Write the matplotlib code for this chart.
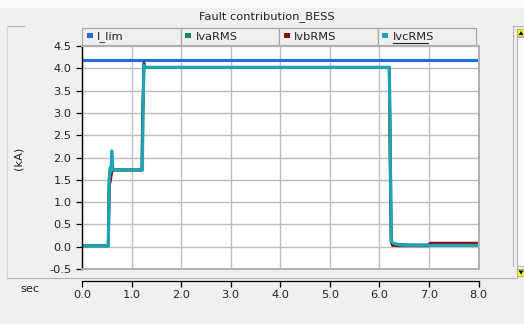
import matplotlib

matplotlib.use("Agg")

import matplotlib.pyplot as plt
from matplotlib.patches import Rectangle, Polygon

W, H = 524, 324
BG = "#f0f0f0"
GRID = "#bdbdbd"

TITLE = "Fault contribution_BESS"
SERIES = ["I_lim", "IvaRMS", "IvbRMS", "IvcRMS"]
COLORS = ["#1f6fd6", "#17876c", "#8b0f0f", "#1ba6b8"]

X_TICKS = [0.0, 1.0, 2.0, 3.0, 4.0, 5.0, 6.0, 7.0, 8.0]
Y_TICKS = [-0.5, 0.0, 0.5, 1.0, 1.5, 2.0, 2.5, 3.0, 3.5, 4.0, 4.5]

# current limit
t_lim = [0.0, 8.0]
i_lim = [4.19, 4.19]

# phase RMS currents (kA)
t_a = [0.0, 0.53, 0.55, 0.57, 0.59, 0.60, 0.62, 0.65, 1.21, 1.23, 1.25, 1.27, 6.20, 6.22, 6.24, 6.27, 6.40, 6.60, 8.0]
i_a = [0.02, 0.02, 1.55, 1.75, 1.68, 2.05, 1.74, 1.72, 1.72, 3.0, 4.1, 4.02, 4.02, 2.2, 0.12, 0.07, 0.05, 0.04, 0.04]

t_b = [0.0, 0.53, 0.55, 0.57, 0.59, 0.61, 0.64, 0.66, 1.21, 1.22, 1.25, 1.27, 6.20, 6.22, 6.24, 6.26, 6.40, 6.60, 7.00, 7.02, 8.0]
i_b = [0.02, 0.02, 1.40, 1.45, 1.60, 1.70, 1.72, 1.72, 1.72, 2.9, 4.12, 4.02, 4.02, 1.5, 0.10, 0.03, 0.02, 0.02, 0.02, 0.08, 0.08]

t_c = [0.0, 0.53, 0.55, 0.57, 0.59, 0.60, 0.62, 0.65, 1.22, 1.23, 1.25, 1.27, 6.20, 6.22, 6.24, 6.27, 6.35, 6.50, 8.0]
i_c = [0.02, 0.02, 1.50, 1.78, 1.70, 2.15, 1.75, 1.72, 1.72, 3.0, 4.08, 4.02, 4.02, 2.0, 0.12, 0.08, 0.05, 0.03, 0.03]


def px_axes(fig, x0, y0, x1, y1, **kw):
    # axes placed by pixel box (top-left origin)
    return fig.add_axes([x0 / W, 1 - y1 / H, (x1 - x0) / W, (y1 - y0) / H], **kw)


fig = plt.figure(figsize=(W / 100, H / 100), dpi=100, facecolor=BG)
plt.rcParams["font.family"] = ["DejaVu Sans"]

# panel decorations in pixel coordinates
deco = fig.add_axes([0, 0, 1, 1], zorder=0)
deco.set_xlim(0, W)
deco.set_ylim(H, 0)
deco.axis("off")
deco.add_patch(Rectangle((0, 0), W, 8, facecolor="#fbfbfb", edgecolor="none"))
deco.plot([7, 24], [25.5, 25.5], color="#b4b4b4", lw=0.8)
deco.plot([513, 524], [25.5, 25.5], color="#b4b4b4", lw=0.8)
deco.plot([7, 7], [25.5, 277.5], color="#d8d8d8", lw=0.8)
deco.plot([513, 513], [25.5, 266], color="#b4b4b4", lw=0.8)
deco.plot([7, 517], [277.5, 277.5], color="#b4b4b4", lw=0.8)
deco.plot([517, 517], [266, 277.5], color="#b4b4b4", lw=0.8)
deco.add_patch(Rectangle((517, 37), 8, 229, facecolor="#fafafa", edgecolor="#b4b4b4", lw=0.8))
deco.add_patch(Rectangle((517, 29), 8, 7, facecolor="#ffff00", edgecolor="#9a9a9a", lw=0.6))
deco.add_patch(Polygon([(518.5, 35), (523.5, 35), (521, 31)], facecolor="black"))
deco.add_patch(Rectangle((517, 269), 8, 7, facecolor="#ffff00", edgecolor="#9a9a9a", lw=0.6))
deco.add_patch(Polygon([(518.5, 270.5), (523.5, 270.5), (521, 274.5)], facecolor="black"))

deco.text(267, 17, TITLE, ha="center", va="center", fontsize=8.2, color="#222222")
deco.text(18, 158, "(kA)", ha="center", va="center", rotation=90, fontsize=8.2, color="#222222")
deco.text(30, 289, "sec", ha="center", va="center", fontsize=8.2, color="#222222")

# legend tabs
tab_w = (476 - 82) / 4
for i, (name, col) in enumerate(zip(SERIES, COLORS)):
    x0 = 82 + i * tab_w
    deco.add_patch(Rectangle((x0, 28), tab_w, 17, facecolor="#efefef", edgecolor="#a8a8a8", lw=0.9))
    deco.add_patch(Rectangle((x0 + 4.5, 33), 6, 4.5, facecolor=col, edgecolor="none"))
    txt = deco.text(x0 + 15, 37, name, ha="left", va="center", fontsize=8.2, color="#222222")
    if name == "IvcRMS":
        deco.plot([x0 + 15, x0 + 50.5], [43, 43], color="#222222", lw=0.8)

# main plot
ax = px_axes(fig, 82, 46, 478.5, 269, zorder=2)
ax.set_facecolor("white")
ax.set_xlim(0, 8)
ax.set_ylim(-0.5, 4.5)
ax.set_xticks(X_TICKS)
ax.set_yticks(Y_TICKS)
ax.set_yticklabels([f"{v:.1f}" for v in Y_TICKS], fontsize=8.2, color="#222222")
ax.tick_params(axis="x", length=0, labelbottom=False)
ax.tick_params(axis="y", direction="out", length=4.5, width=0.9, pad=3)
ax.grid(True, color=GRID, lw=1.0)
ax.set_axisbelow(True)
for side in ("top", "right", "bottom"):
    ax.spines[side].set_color("#b0b0b0")
    ax.spines[side].set_linewidth(1.4)
ax.spines["left"].set_color("black")
ax.spines["left"].set_linewidth(1.0)

ax.plot(t_lim, i_lim, color=COLORS[0], lw=2.2, solid_capstyle="butt")
ax.plot(t_a, i_a, color=COLORS[1], lw=2.2)
ax.plot(t_b, i_b, color=COLORS[2], lw=2.0)
ax.plot(t_c, i_c, color=COLORS[3], lw=2.2)

# time axis below the panel
ax_t = px_axes(fig, 82, 280.5, 478.5, 281, zorder=2)
ax_t.set_xlim(0, 8)
ax_t.set_facecolor("none")
ax_t.set_yticks([])
for side in ("top", "right", "left"):
    ax_t.spines[side].set_visible(False)
ax_t.spines["bottom"].set_linewidth(0.9)
ax_t.set_xticks(X_TICKS)
ax_t.set_xticklabels([f"{v:.1f}" for v in X_TICKS], fontsize=8.2, color="#222222")
ax_t.tick_params(axis="x", direction="out", length=4, width=0.9, pad=2.5)

fig.savefig("out.png", dpi=100, facecolor=fig.get_facecolor())
